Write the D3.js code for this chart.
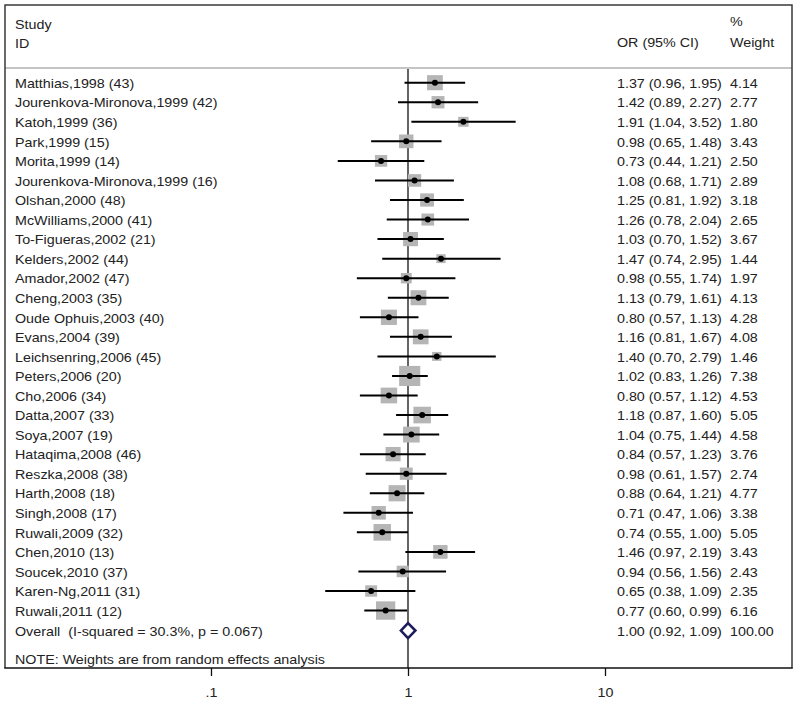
<!DOCTYPE html>
<html>
<head>
<meta charset="utf-8">
<script src="https://cdn.jsdelivr.net/npm/d3@7/dist/d3.min.js"></script>
<style>
  html, body { margin: 0; padding: 0; background: #fff; }
  svg { display: block; }
  text { font-family: Arial, "Liberation Sans", sans-serif; fill: #222; white-space: pre; }
</style>
</head>
<body>
<svg id="chart" width="797" height="702"></svg>
<script>
const studies = [
  "Matthias,1998 (43)", "Jourenkova-Mironova,1999 (42)", "Katoh,1999 (36)", "Park,1999 (15)",
  "Morita,1999 (14)", "Jourenkova-Mironova,1999 (16)", "Olshan,2000 (48)", "McWilliams,2000 (41)",
  "To-Figueras,2002 (21)", "Kelders,2002 (44)", "Amador,2002 (47)", "Cheng,2003 (35)",
  "Oude Ophuis,2003 (40)", "Evans,2004 (39)", "Leichsenring,2006 (45)", "Peters,2006 (20)",
  "Cho,2006 (34)", "Datta,2007 (33)", "Soya,2007 (19)", "Hataqima,2008 (46)",
  "Reszka,2008 (38)", "Harth,2008 (18)", "Singh,2008 (17)", "Ruwali,2009 (32)",
  "Chen,2010 (13)", "Soucek,2010 (37)", "Karen-Ng,2011 (31)", "Ruwali,2011 (12)"
];
const orValues = [1.37,1.42,1.91,0.98,0.73,1.08,1.25,1.26,1.03,1.47,0.98,1.13,0.80,1.16,1.40,1.02,0.80,1.18,1.04,0.84,0.98,0.88,0.71,0.74,1.46,0.94,0.65,0.77];
const ciLow   = [0.96,0.89,1.04,0.65,0.44,0.68,0.81,0.78,0.70,0.74,0.55,0.79,0.57,0.81,0.70,0.83,0.57,0.87,0.75,0.57,0.61,0.64,0.47,0.55,0.97,0.56,0.38,0.60];
const ciHigh  = [1.95,2.27,3.52,1.48,1.21,1.71,1.92,2.04,1.52,2.95,1.74,1.61,1.13,1.67,2.79,1.26,1.12,1.60,1.44,1.23,1.57,1.21,1.06,1.00,2.19,1.56,1.09,0.99];
const weights = [4.14,2.77,1.80,3.43,2.50,2.89,3.18,2.65,3.67,1.44,1.97,4.13,4.28,4.08,1.46,7.38,4.53,5.05,4.58,3.76,2.74,4.77,3.38,5.05,3.43,2.43,2.35,6.16];
const overallLabel = "Overall  (I-squared = 30.3%, p = 0.067)";
const overall = { or: 1.00, lo: 0.92, hi: 1.09, w: 100.00 };
const noteText = "NOTE: Weights are from random effects analysis";
const tickValues = [0.1, 1, 10];
const tickLabels = [".1", "1", "10"];

const svg = d3.select("#chart");
const SX = 1.1;          // horizontal text stretch seen in the reference
const FS = 13;

const frame = { left: 5, right: 792, top: 5, bottom: 668 };
const x = d3.scaleLog().domain([0.1, 10]).range([211, 605]);
const rowY = d3.scaleLinear().domain([0, 1]).range([82.7, 82.7 + 19.55]);
const fmt = d3.format(".2f");

function label(t, px, py, anchor = "start", size = FS) {
  const g = svg.append("g").attr("transform", `translate(${px},${py}) scale(${SX},1)`);
  g.append("text").attr("text-anchor", anchor).attr("font-size", size).text(t);
  return g;
}

// header separator
svg.append("line").attr("x1", frame.left).attr("x2", frame.right).attr("y1", 68).attr("y2", 68)
  .attr("stroke", "#c4c4c4").attr("stroke-width", 2);

// frame (top, left, right)
svg.append("path")
  .attr("d", `M${frame.left},${frame.bottom} V${frame.top} H${frame.right} V${frame.bottom}`)
  .attr("fill", "none").attr("stroke", "#3a3a3a").attr("stroke-width", 1.5);

// null line
svg.append("line").attr("x1", x(1)).attr("x2", x(1)).attr("y1", 69).attr("y2", frame.bottom)
  .attr("stroke", "#111").attr("stroke-width", 1.3);

// header
label("Study", 15, 29);
label("ID", 15, 48);
label("OR (95% CI)", 617, 47);
label("%", 730, 26);
label("Weight", 730, 47);

const rows = studies.map((s, i) => ({ s, or: orValues[i], lo: ciLow[i], hi: ciHigh[i], w: weights[i], i }));

// boxes
const k = 7.4;
svg.append("g").selectAll("rect").data(rows).join("rect")
  .attr("x", d => x(d.or) - k * Math.sqrt(d.w) * 1.05 / 2)
  .attr("y", d => rowY(d.i) - k * Math.sqrt(d.w) / 2)
  .attr("width", d => k * Math.sqrt(d.w) * 1.05)
  .attr("height", d => k * Math.sqrt(d.w))
  .attr("fill", "#b5b5b5");

// CI lines
svg.append("g").selectAll("line").data(rows).join("line")
  .attr("x1", d => x(d.lo)).attr("x2", d => x(d.hi))
  .attr("y1", d => rowY(d.i)).attr("y2", d => rowY(d.i))
  .attr("stroke", "#000").attr("stroke-width", 2);

// point estimates
svg.append("g").selectAll("circle").data(rows).join("circle")
  .attr("cx", d => x(d.or)).attr("cy", d => rowY(d.i)).attr("r", 3)
  .attr("fill", "#000");

// labels & values
rows.forEach(d => {
  const y = rowY(d.i) + 5.2;
  label(d.s, 15, y);
  label(`${fmt(d.or)} (${fmt(d.lo)}, ${fmt(d.hi)})`, 617, y);
  label(fmt(d.w), 730, y);
});

// overall
const oy = rowY(studies.length) + 0.5;
svg.append("path")
  .attr("d", `M${x(overall.lo)},${oy} L${x(overall.or)},${oy - 7.5} L${x(overall.hi)},${oy} L${x(overall.or)},${oy + 7.5} Z`)
  .attr("fill", "#fff").attr("stroke", "#1c1c5c").attr("stroke-width", 2.6);
label(overallLabel, 15, oy + 5.2);
label(`${fmt(overall.or)} (${fmt(overall.lo)}, ${fmt(overall.hi)})`, 617, oy + 5.2);
label(fmt(overall.w), 730, oy + 5.2);

// note
label(noteText, 15, 664);

// axis
const axis = d3.axisBottom(x).tickValues(tickValues)
  .tickFormat((d, i) => tickLabels[i]).tickSize(8).tickPadding(12);
const ag = svg.append("g").attr("transform", `translate(0,${frame.bottom})`).call(axis);
ag.select(".domain").remove();
ag.selectAll(".tick line").attr("stroke", "#111").attr("stroke-width", 1.3);
ag.selectAll(".tick text").attr("font-size", FS).attr("font-family", "Arial, 'Liberation Sans', sans-serif")
  .attr("fill", "#222").attr("transform", `scale(${SX},1)`)
  .attr("x", 0);
svg.append("line").attr("x1", frame.left - 0.75).attr("x2", frame.right + 0.75)
  .attr("y1", frame.bottom).attr("y2", frame.bottom)
  .attr("stroke", "#111").attr("stroke-width", 1.6);
</script>
</body>
</html>
